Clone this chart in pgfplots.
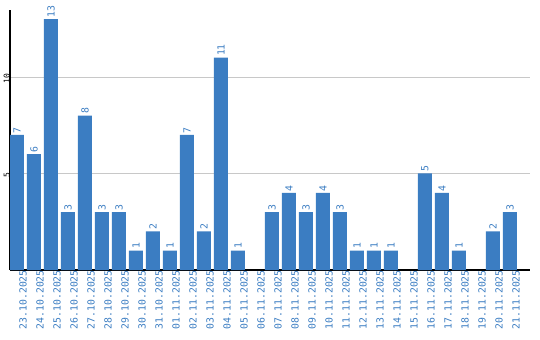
\documentclass[border=0pt]{standalone}
\usepackage{fontspec}
\setmainfont{DejaVu Sans Mono}
\usepackage{pgfplots}
\pgfplotsset{compat=1.18}
\definecolor{barblue}{RGB}{59,125,194}
\definecolor{gridgray}{RGB}{200,200,200}
\begin{document}
\begin{tikzpicture}[x=1bp,y=1bp]
\useasboundingbox (-10bp,-70bp) rectangle (530bp,270bp);
\begin{axis}[
  at={(0,0)}, anchor=south west,
  scale only axis,
  width=520bp, height=260bp,
  xmin=-0.41, xmax=30.18,
  ymin=0, ymax=13.47,
  /pgf/number format/assume math mode=true,
  axis x line*=bottom, axis y line*=left,
  axis line style={black, line width=1.2bp, -},
  xtick={0,...,29},
  xticklabels={23.10.2025,24.10.2025,25.10.2025,26.10.2025,27.10.2025,28.10.2025,29.10.2025,30.10.2025,31.10.2025,01.11.2025,02.11.2025,03.11.2025,04.11.2025,05.11.2025,06.11.2025,07.11.2025,08.11.2025,09.11.2025,10.11.2025,11.11.2025,12.11.2025,13.11.2025,14.11.2025,15.11.2025,16.11.2025,17.11.2025,18.11.2025,19.11.2025,20.11.2025,21.11.2025},
  x tick label style={rotate=90, anchor=east, text=barblue, font=\fontsize{9.8bp}{10bp}\selectfont, inner sep=0pt, yshift=-6bp},
  ytick={5,10},
  y tick label style={rotate=90, anchor=south, text=black, font=\fontsize{8bp}{8bp}\selectfont, inner sep=0pt, xshift=-2bp},
  major tick length=0pt,
  ymajorgrids,
  grid style={gridgray, line width=0.8bp},
  nodes near coords,
  every node near coord/.append style={rotate=90, anchor=west, text=barblue, font=\fontsize{9.8bp}{10bp}\selectfont, inner sep=0pt, xshift=1.5bp},
]
\addplot[ybar, bar width=14bp, fill=barblue, draw=none] coordinates {
(0,7) (1,6) (2,13) (3,3) (4,8) (5,3) (6,3) (7,1) (8,2) (9,1)
(10,7) (11,2) (12,11) (13,1) (15,3) (16,4) (17,3) (18,4) (19,3)
(20,1) (21,1) (22,1) (24,5) (25,4) (26,1) (28,2) (29,3)
};
\end{axis}
\end{tikzpicture}
\end{document}
